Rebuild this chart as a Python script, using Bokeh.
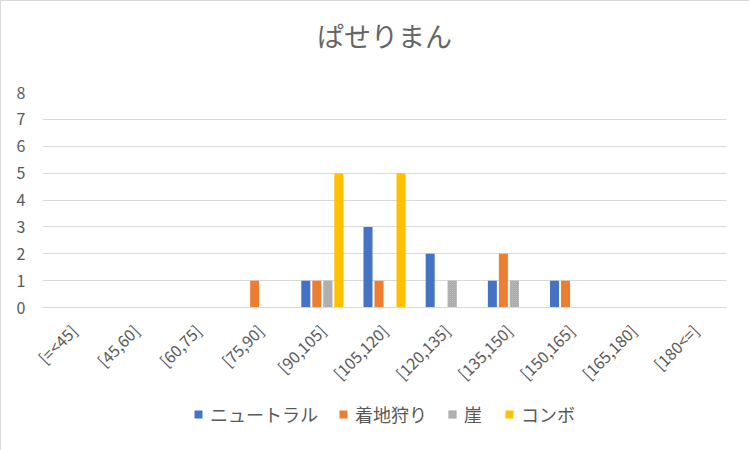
import math
from bokeh.plotting import figure
from bokeh.layouts import column
from bokeh.models import FactorRange, FixedTicker, Legend, LegendItem, ColumnDataSource, Title
from bokeh.transform import dodge
from bokeh.embed import file_html
from bokeh.resources import INLINE

categories = ["[=<45]", "[45,60]", "[60,75]", "[75,90]", "[90,105]", "[105,120]",
              "[120,135]", "[135,150]", "[150,165]", "[165,180]", "[180<=]"]
neutral = [0, 0, 0, 0, 1, 3, 2, 1, 1, 0, 0]
landing = [0, 0, 0, 1, 1, 1, 0, 2, 1, 0, 0]
ledge = [0, 0, 0, 0, 1, 0, 1, 1, 0, 0, 0]
combo = [0, 0, 0, 0, 5, 5, 0, 0, 0, 0, 0]
series_names = ["ニュートラル", "着地狩り", "崖", "コンボ"]
y_ticks = [0, 1, 2, 3, 4, 5, 6, 7, 8]
title_text = "ぱせりまん"

FONT = "Noto Sans CJK JP"
TXT = "#595959"
GRID = "#D9D9D9"

src = ColumnDataSource(dict(cat=categories, neutral=neutral, landing=landing,
                            ledge=ledge, combo=combo))

p = figure(x_range=FactorRange(factors=categories, range_padding=0),
           y_range=(0, 8), width=749, height=400,
           output_backend="svg", toolbar_location=None)
p.min_border_left = 41
p.min_border_right = 24
p.min_border_top = 91
p.min_border_bottom = 94
p.border_fill_color = "white"

spacer = Title(text=" ", text_font_size="15px", text_font=FONT)
main_title = Title(text=title_text, align="center", offset=-8, text_font=FONT,
                   text_font_size="27px", text_font_style="normal", text_color="#666666")
p.above = [spacer, main_title]
p.title = None

p.outline_line_color = None
p.xgrid.grid_line_color = None
p.ygrid.grid_line_color = GRID
p.ygrid.grid_line_width = 1
p.yaxis.ticker = FixedTicker(ticks=y_ticks)
p.yaxis.axis_line_color = None
p.yaxis.major_tick_line_color = None
p.yaxis.minor_tick_line_color = None
p.yaxis.major_label_text_font = FONT
p.yaxis.major_label_text_font_size = "16px"
p.yaxis.major_label_text_color = TXT
p.yaxis.major_label_standoff = 11

p.xaxis.axis_line_color = GRID
p.xaxis.major_tick_line_color = None
p.xaxis.minor_tick_line_color = None
p.xaxis.major_label_orientation = math.pi / 4
p.xaxis.major_label_text_font = FONT
p.xaxis.major_label_text_font_size = "16px"
p.xaxis.major_label_text_color = TXT
p.xaxis.major_label_standoff = 14

colors = ["#4472C4", "#ED7D31", "#A5A5A5", "#FFC000"]
fields = ["neutral", "landing", "ledge", "combo"]
hatch = dict(hatch_pattern="criss_cross", hatch_color="#BDBDBD",
             hatch_scale=2, hatch_weight=0.5)
step = 0.177
bw = 0.145
for i, (f, c) in enumerate(zip(fields, colors)):
    kw = hatch if f == "ledge" else {}
    p.vbar(x=dodge("cat", (i - 1.5) * step, range=p.x_range), top=f, width=bw,
           source=src, fill_color=c, line_color=None, **kw)

# legend strip below the chart (same data, drawn outside its visible range)
lp = figure(width=749, height=50,
            x_range=FactorRange(factors=categories, range_padding=0),
            y_range=(100, 101),
            output_backend="svg", toolbar_location=None)
lp.axis.visible = False
lp.grid.visible = False
lp.outline_line_color = None
lp.min_border = 0
lp.border_fill_color = "white"
leg_renderers = []
for f, c in zip(fields, colors):
    kw = hatch if f == "ledge" else {}
    leg_renderers.append(lp.vbar(x="cat", top=f, width=bw, source=src,
                                 fill_color=c, line_color=None, **kw))

legend = Legend(items=[LegendItem(label=n, renderers=[r])
                       for n, r in zip(series_names, leg_renderers)],
                orientation="horizontal", location="top_center")
legend.glyph_width = 10
legend.glyph_height = 10
legend.label_height = 20
legend.label_text_font = FONT
legend.label_text_font_size = "18px"
legend.label_text_color = TXT
legend.label_standoff = 7
legend.spacing = 20
legend.padding = 18
legend.margin = 0
legend.border_line_color = None
legend.background_fill_alpha = 0
lp.add_layout(legend, "center")

layout = column(p, lp, spacing=0, styles={"border": "1px solid #D9D9D9"})

open("out.html", "w").write(file_html(layout, INLINE))
